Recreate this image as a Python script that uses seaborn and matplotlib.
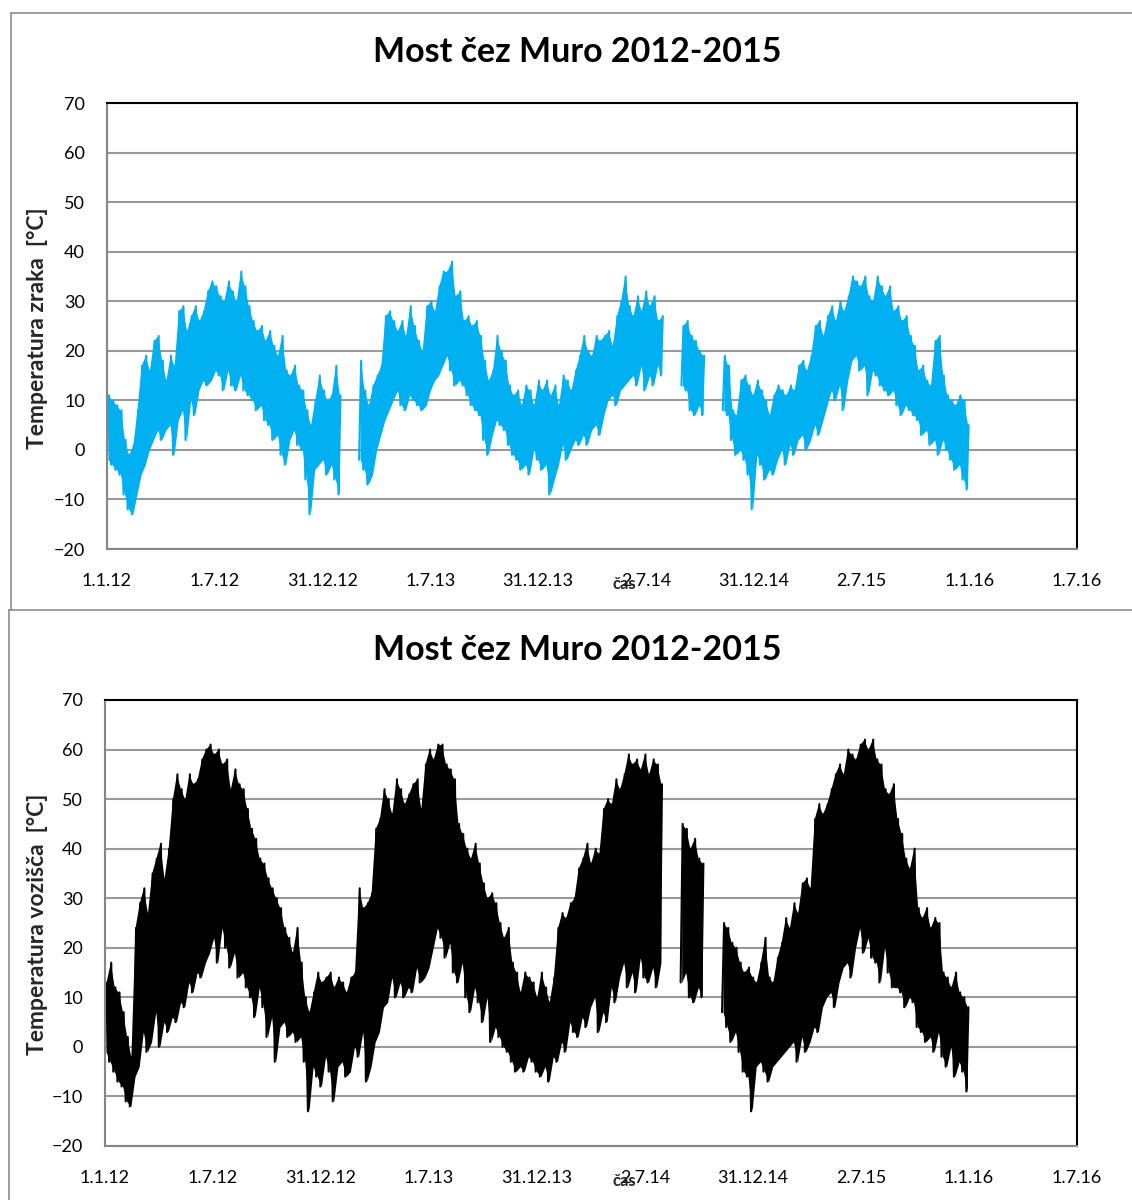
import numpy as np
import pandas as pd
import matplotlib
matplotlib.use("Agg")
import matplotlib.pyplot as plt
from matplotlib.lines import Line2D
import seaborn as sns

# Weekly envelope (week i starts on day 7*i counted from 1.1.2012); None = no measurements
air_high = [11, 10, 9, 8, 2, -1, 1, 8, 17, 19,
            16, 22, 23, 18, 14, 19, 17, 28, 29, 24,
            27, 29, 26, 28, 32, 34, 33, 31, 30, 34,
            32, 30, 36, 33, 29, 26, 24, 25, 22, 24,
            21, 19, 23, 16, 15, 17, 13, 12, 8, 5,
            10, 15, 12, 10, 11, 17, 11, None, None, None,
            None, 18, 12, 9, 13, 15, 17, 27, 28, 26,
            24, 26, 23, 29, 25, 22, 20, 29, 30, 28,
            33, 36, 36, 38, 31, 32, 26, 27, 25, 26,
            23, 18, 14, 16, 23, 20, 18, 13, 11, 12,
            9, 13, 12, 9, 14, 12, 14, 11, 13, 9,
            15, 14, 12, 16, 19, 23, 20, 19, 23, 22,
            23, 24, 21, 27, 30, 35, 29, 27, 31, 28,
            32, 29, 31, 26, 27, None, None, None, None, 25,
            26, 23, 22, 20, 19, None, None, None, None, 19,
            17, 8, 7, 14, 15, 13, 11, 14, 12, 10,
            7, 11, 13, 12, 11, 13, 12, 17, 18, 16,
            19, 25, 26, 23, 27, 29, 26, 30, 28, 31,
            35, 34, 33, 35, 31, 30, 35, 33, 31, 33,
            28, 29, 26, 27, 23, 21, 16, 17, 14, 13,
            22, 23, 15, 11, 10, 9, 11, 10, 5]

air_low = [-2, -3, -4, -5, -9, -12, -13, -9, -5, -3,
           0, 2, 4, 2, 4, 5, -1, 6, 8, 2,
           10, 7, 12, 14, 13, 14, 16, 15, 12, 16,
           13, 12, 15, 12, 11, 10, 8, 9, 6, 5,
           2, 3, -1, -3, 2, 4, 1, 0, -6, -13,
           -4, -3, -2, -5, -3, -6, -9, None, None, None,
           None, -2, -4, -7, -5, 0, 3, 6, 8, 10,
           12, 9, 8, 11, 10, 9, 8, 9, 12, 14,
           15, 17, 19, 16, 13, 14, 13, 11, 9, 8,
           7, 2, -1, 3, 6, 5, 4, 1, -1, -2,
           -4, -3, -5, 0, -2, -4, -3, -9, -6, -3,
           1, -2, 0, 2, 1, 3, 1, 4, 5, 3,
           7, 10, 11, 9, 12, 13, 14, 15, 13, 17,
           12, 15, 13, 17, 15, None, None, None, None, 13,
           12, 8, 7, 9, 7, None, None, None, None, 8,
           7, 2, -1, 0, -2, -5, -12, -1, -3, -6,
           -4, -5, -2, 0, -3, 1, -1, 2, 3, 0,
           2, 5, 3, 6, 9, 12, 10, 13, 8, 14,
           18, 19, 16, 17, 11, 16, 15, 13, 12, 11,
           12, 9, 7, 9, 8, 7, 6, 3, 4, 1,
           2, -1, 2, 0, -2, -4, -3, -6, -8]

road_high = [13, 17, 12, 11, 7, 2, -2, 24, 29, 32,
             27, 35, 38, 41, 34, 40, 50, 55, 52, 50,
             55, 53, 54, 58, 60, 61, 59, 60, 57, 58,
             52, 56, 53, 52, 48, 44, 42, 38, 37, 34,
             32, 30, 28, 24, 22, 19, 24, 17, 10, 7,
             11, 15, 13, 14, 15, 12, 14, 13, 11, 14,
             15, 32, 28, 29, 31, 44, 46, 52, 50, 47,
             54, 52, 49, 51, 53, 54, 48, 57, 60, 58,
             61, 61, 57, 56, 54, 45, 43, 40, 38, 41,
             37, 33, 30, 31, 29, 25, 22, 24, 17, 15,
             11, 15, 14, 13, 10, 15, 12, 9, 14, 24,
             27, 26, 29, 30, 36, 38, 41, 37, 40, 39,
             48, 50, 49, 54, 52, 55, 59, 57, 58, 56,
             59, 55, 58, 57, 53, None, None, None, None, 45,
             44, 40, 42, 38, 37, None, None, None, None, 25,
             24, 21, 20, 17, 15, 16, 14, 13, 17, 22,
             14, 13, 18, 21, 26, 24, 29, 27, 33, 34,
             32, 46, 49, 47, 49, 52, 55, 57, 55, 60,
             59, 58, 61, 62, 60, 62, 58, 57, 52, 51,
             53, 46, 43, 38, 36, 40, 28, 26, 28, 24,
             26, 25, 15, 14, 12, 15, 11, 10, 8]

road_low = [-1, -3, -5, -7, -8, -11, -12, -6, -4, 3,
            -1, 1, 7, 0, 5, 3, 6, 5, 9, 8,
            13, 11, 15, 14, 17, 19, 22, 17, 24, 20,
            16, 19, 14, 15, 12, 10, 6, 12, 8, 2,
            6, -3, 4, 5, 2, 3, 1, 2, -3, -13,
            -4, -6, -8, -2, -5, -11, -4, -3, -6, -5,
            0, -2, 3, -7, -4, 1, 3, 8, 9, 14,
            10, 13, 10, 12, 11, 16, 13, 14, 16, 20,
            24, 22, 18, 21, 15, 13, 17, 10, 7, 12,
            9, 5, 10, 1, 4, 2, 0, -1, -3, -5,
            -4, -5, -2, -3, -5, -6, -4, -7, -2, -3,
            1, -1, 5, 3, 2, 6, 4, 8, 10, 3,
            7, 5, 12, 9, 14, 17, 12, 15, 11, 18,
            14, 13, 16, 12, 17, None, None, None, None, 13,
            15, 10, 9, 12, 10, None, None, None, None, 7,
            4, 1, 3, -1, -5, -6, -13, -4, -3, -5,
            -7, -4, -3, -2, -1, 0, 1, -3, 2, -1,
            1, 4, 3, 8, 10, 11, 8, 13, 16, 17,
            14, 20, 24, 19, 22, 18, 17, 13, 20, 15,
            12, 12, 11, 8, 10, 9, 4, 3, 1, 2,
            -1, 3, -2, -4, 0, -6, -3, -5, -9]

tick_labels = ["1.1.12", "1.7.12", "31.12.12", "1.7.13", "31.12.13",
               "2.7.14", "31.12.14", "2.7.15", "1.1.16", "1.7.16"]
title = "Most čez Muro 2012-2015"
x_label = "čas"
air_label = "Temperatura zraka  [°C]"
road_label = "Temperatura vozišča  [°C]"


def weekly_trace(high, low):
    """Zig-zag through each week's low and high; a new unit starts after each gap."""
    rows, seg, prev_ok = [], 0, False
    for i, (h, l) in enumerate(zip(high, low)):
        if h is None:
            if prev_ok:
                seg += 1
            prev_ok = False
            continue
        rows.append((7 * i, l, seg))
        rows.append((7 * i + 3.5, h, seg))
        prev_ok = True
    return pd.DataFrame(rows, columns=["day", "temp", "seg"])


def weekly_band(high, low):
    """Weekly low/high pairs placed mid-week, split into runs without gaps."""
    runs, cur = [], []
    for i, (h, l) in enumerate(zip(high, low)):
        if h is None:
            if cur:
                runs.append(pd.DataFrame(cur, columns=["day", "low", "high"]))
            cur = []
            continue
        cur.append((7 * i + 1.75, l, h))
    if cur:
        runs.append(pd.DataFrame(cur, columns=["day", "low", "high"]))
    return runs


sns.set_theme(style="white")
plt.rcParams["font.family"] = ["Lato", "DejaVu Sans"]

W, H = 1132, 1200
fig = plt.figure(figsize=(W / 100, H / 100), dpi=100)
fig.patch.set_facecolor("white")

frame_c = "#8c8c8c"
# chart-area borders
fig.add_artist(Line2D([11 / W, 1.01], [1 - 13 / H, 1 - 13 / H], color=frame_c, lw=1.2))
fig.add_artist(Line2D([11 / W, 11 / W], [1 - 13 / H, 1 - 610 / H], color=frame_c, lw=1.2))
fig.add_artist(Line2D([9 / W, 1.01], [1 - 610 / H, 1 - 610 / H], color=frame_c, lw=1.2))
fig.add_artist(Line2D([9 / W, 9 / W], [1 - 610 / H, -0.01], color=frame_c, lw=1.2))

panels = [
    dict(rect=[107 / W, 1 - 549 / H, (1077 - 107) / W, 446 / H], high=air_high, low=air_low,
         color="#00B0F0", ylabel=air_label, title_y=52, ylab_y=328, xlab_y=584),
    dict(rect=[105 / W, 1 - 1146 / H, (1077 - 105) / W, 446 / H], high=road_high, low=road_low,
         color="black", ylabel=road_label, title_y=650, ylab_y=924, xlab_y=1181),
]

xticks = np.linspace(0, 1643, len(tick_labels))
grid_c = "#999999"
for p in panels:
    ax = fig.add_axes(p["rect"])
    for run in weekly_band(p["high"], p["low"]):
        ax.fill_between(run["day"], run["low"], run["high"], color=p["color"], lw=0)
    df = weekly_trace(p["high"], p["low"])
    sns.lineplot(data=df, x="day", y="temp", units="seg", estimator=None, sort=False,
                 color=p["color"], lw=1.5, ax=ax, legend=False)
    ax.set_xlim(0, 1643)
    ax.set_ylim(-20, 70)
    ax.set_yticks(range(-20, 71, 10))
    ax.set_xticks(xticks)
    ax.set_xticklabels(tick_labels)
    ax.yaxis.grid(True, color=grid_c, lw=1.5)
    ax.xaxis.grid(False)
    ax.set_axisbelow(True)
    for side in ["left", "bottom"]:
        ax.spines[side].set_color("#868686")
        ax.spines[side].set_linewidth(1.5)
    for side in ["top", "right"]:
        ax.spines[side].set_color("black")
        ax.spines[side].set_linewidth(1.5)
    ax.tick_params(axis="both", which="major", direction="out", length=7, width=1.3,
                   color="#868686", labelsize=13, labelcolor="black")
    ax.tick_params(axis="y", pad=9)
    ax.tick_params(axis="x", pad=10)
    ax.set_xlabel("")
    ax.set_ylabel("")
    fig.text(577 / W, 1 - p["title_y"] / H, title, ha="center", va="center",
             fontsize=24.5, fontweight="bold", color="black")
    fig.text(38 / W, 1 - p["ylab_y"] / H, p["ylabel"], rotation=90, ha="center", va="center",
             fontsize=16.5, fontweight="bold")
    fig.text(624 / W, 1 - p["xlab_y"] / H, x_label, ha="center", va="center",
             fontsize=12, fontweight="bold")

fig.savefig("out.png", dpi=100)
